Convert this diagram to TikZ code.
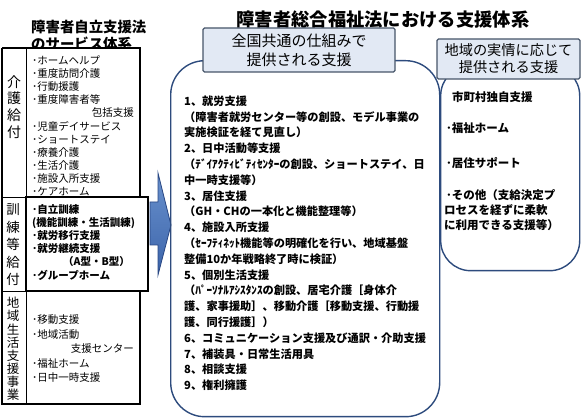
\documentclass[tikz,border=0pt]{standalone}
\usepackage{fontspec}
\newfontfamily\jp{Noto Sans CJK JP}
\newcommand\jfs[2]{\fontsize{#1}{#2}\selectfont}
\definecolor{boxline}{RGB}{45,75,125}
\definecolor{hdrline}{RGB}{70,85,105}
\definecolor{hdrfill}{RGB}{226,233,244}
\definecolor{arrowA}{RGB}{60,100,170}
\definecolor{arrowB}{RGB}{105,145,205}
\definecolor{arrowline}{RGB}{40,70,130}
\begin{document}
\begin{tikzpicture}[x=1pt,y=-1pt,font=\jp,
  hdr/.style={draw=hdrline,fill=hdrfill,line width=1.1pt,rounded corners=1.5pt,align=center,inner sep=0pt},
  bigbox/.style={draw=boxline,line width=1.4pt,inner sep=0pt},
  mtxt/.style={anchor=west,inner sep=0pt,font=\jp\bfseries\jfs{11.2}{13}},
  ltxt/.style={anchor=west,inner sep=0pt,font=\jp\jfs{10.5}{12}},
  lbtxt/.style={anchor=west,inner sep=0pt,font=\jp\bfseries\jfs{10.5}{12}},
  vlab/.style={align=center,inner sep=0pt},
  tline/.style={line width=0.9pt}]
\useasboundingbox (0,0) rectangle (582,419);

% titles
\node[inner sep=0pt,font=\jp\bfseries\jfs{18.3}{20}] (title) at (383,20) {障害者総合福祉法における支援体系};
\node[anchor=west,inner sep=0pt,font=\jp\bfseries\jfs{14.4}{16}] (lt1) at (31,27) {障害者自立支援法};
\node[anchor=west,inner sep=0pt,font=\jp\bfseries\jfs{14.4}{16}] (lt2) at (31,44) {のサービス体系};

% left table
\fill[white] (2,48) rectangle (140,404);
\draw[line width=1.2pt] (2,48) -- (140,48) -- (140,197);
\draw[line width=1.2pt] (2,48) -- (2,404) -- (140,404) -- (140,291);
\draw[tline] (26,48) -- (26,404);
\draw[tline] (2,197) -- (26,197);
\draw[tline] (2,291) -- (26,291);
\draw[line width=1.6pt] (26,197) rectangle (148,291);

\node[vlab,font=\jp\jfs{14}{16.7}] (v1) at (14,107) {介\\護\\給\\付};
\node[vlab,font=\jp\jfs{13.5}{17.5}] (v2) at (13,245) {訓\\練\\等\\給\\付};
\node[vlab,font=\jp\jfs{12.5}{13.1}] (v3) at (13,349) {地\\域\\生\\活\\支\\援\\事\\業};

\node[ltxt] (a1) at (32,60) {･ホームヘルプ};
\node[ltxt] (a2) at (32,73.2) {･重度訪問介護};
\node[ltxt] (a3) at (32,86.4) {･行動援護};
\node[ltxt] (a4) at (32,99.6) {･重度障害者等};
\node[ltxt,anchor=east] (a5) at (134,112.8) {包括支援};
\node[ltxt] (a6) at (32,126) {･児童デイサービス};
\node[ltxt] (a7) at (32,139.2) {･ショートステイ};
\node[ltxt] (a8) at (32,152.4) {･療養介護};
\node[ltxt] (a9) at (32,165.6) {･生活介護};
\node[ltxt] (a10) at (32,178.8) {･施設入所支援};
\node[ltxt] (a11) at (32,192) {･ケアホーム};

\node[lbtxt] (b1) at (32,210) {･自立訓練};
\node[lbtxt] (b2) at (32,223) {(機能訓練・生活訓練)};
\node[lbtxt] (b3) at (32,236) {･就労移行支援};
\node[lbtxt] (b4) at (32,249) {･就労継続支援};
\node[lbtxt,anchor=east] (b5) at (130,262) {（A型・B型）};
\node[lbtxt] (b6) at (32,275) {･グループホーム};

\node[ltxt] (c1) at (32,320) {･移動支援};
\node[ltxt] (c2) at (32,334.4) {･地域活動};
\node[ltxt,anchor=east] (c3) at (134,348.8) {支援センター};
\node[ltxt] (c4) at (32,363.2) {･福祉ホーム};
\node[ltxt] (c5) at (32,377.6) {･日中一時支援};

% arrow
\shade[top color=arrowB,bottom color=arrowA,draw=arrowline,line width=0.8pt]
  (150,202) -- (158,202) -- (158,173) -- (171,225) -- (158,275) -- (158,245) -- (150,245) -- cycle;

% big boxes
\node[bigbox,rounded corners=34pt,anchor=north west,minimum width=269pt,minimum height=356pt] (main) at (170,60) {};
\node[bigbox,rounded corners=30pt,anchor=north west,minimum width=139pt,minimum height=205pt] (local) at (440,65) {};

% header boxes
\node[hdr,minimum width=192pt,minimum height=44pt,font=\jp\jfs{15}{19}] (h1) at (299,50) {全国共通の仕組みで\\提供される支援};
\node[hdr,minimum width=143pt,minimum height=40pt,font=\jp\jfs{14.2}{17}] (h2) at (508.5,59) {地域の実情に応じて\\提供される支援};

% main list
\foreach \t [count=\i from 0] in {
  1、就労支援,
  （障害者就労センター等の創設、モデル事業の,
  実施検証を経て見直し）,
  2、日中活動等支援,
  （ﾃﾞｲｱｸﾃｨﾋﾞﾃｨｾﾝﾀｰの創設、ショートステイ、日,
  中一時支援等）,
  3、居住支援,
  （GH・CHの一本化と機能整理等）,
  4、施設入所支援,
  （ｾｰﾌﾃｨﾈｯﾄ機能等の明確化を行い、地域基盤,
  整備10か年戦略終了時に検証）,
  5、個別生活支援,
  （ﾊﾟｰｿﾅﾙｱｼｽﾀﾝｽの創設、居宅介護［身体介,
  護、家事援助］、移動介護［移動支援、行動援,
  護、同行援護］）,
  6、コミュニケーション支援及び通訳・介助支援,
  7、補装具・日常生活用具,
  8、相談支援,
  9、権利擁護}
  \node[mtxt] (m\i) at (184,{101+15.8*\i}) {\t};

% local list
\node[mtxt,font=\jp\bfseries\jfs{11.5}{13}] (r1) at (452,97) {市町村独自支援};
\node[mtxt,font=\jp\bfseries\jfs{11.5}{13}] (r2) at (446,128) {･福祉ホーム};
\node[mtxt,font=\jp\bfseries\jfs{11.5}{13}] (r3) at (446,163) {･居住サポート};
\node[mtxt,font=\jp\bfseries\jfs{11.5}{13}] (r4) at (446,195) {･その他（支給決定プ};
\node[mtxt,font=\jp\bfseries\jfs{11.5}{13}] (r5) at (444,210) {ロセスを経ずに柔軟};
\node[mtxt,font=\jp\bfseries\jfs{11.5}{13}] (r6) at (444,225) {に利用できる支援等）};
\end{tikzpicture}
\end{document}
